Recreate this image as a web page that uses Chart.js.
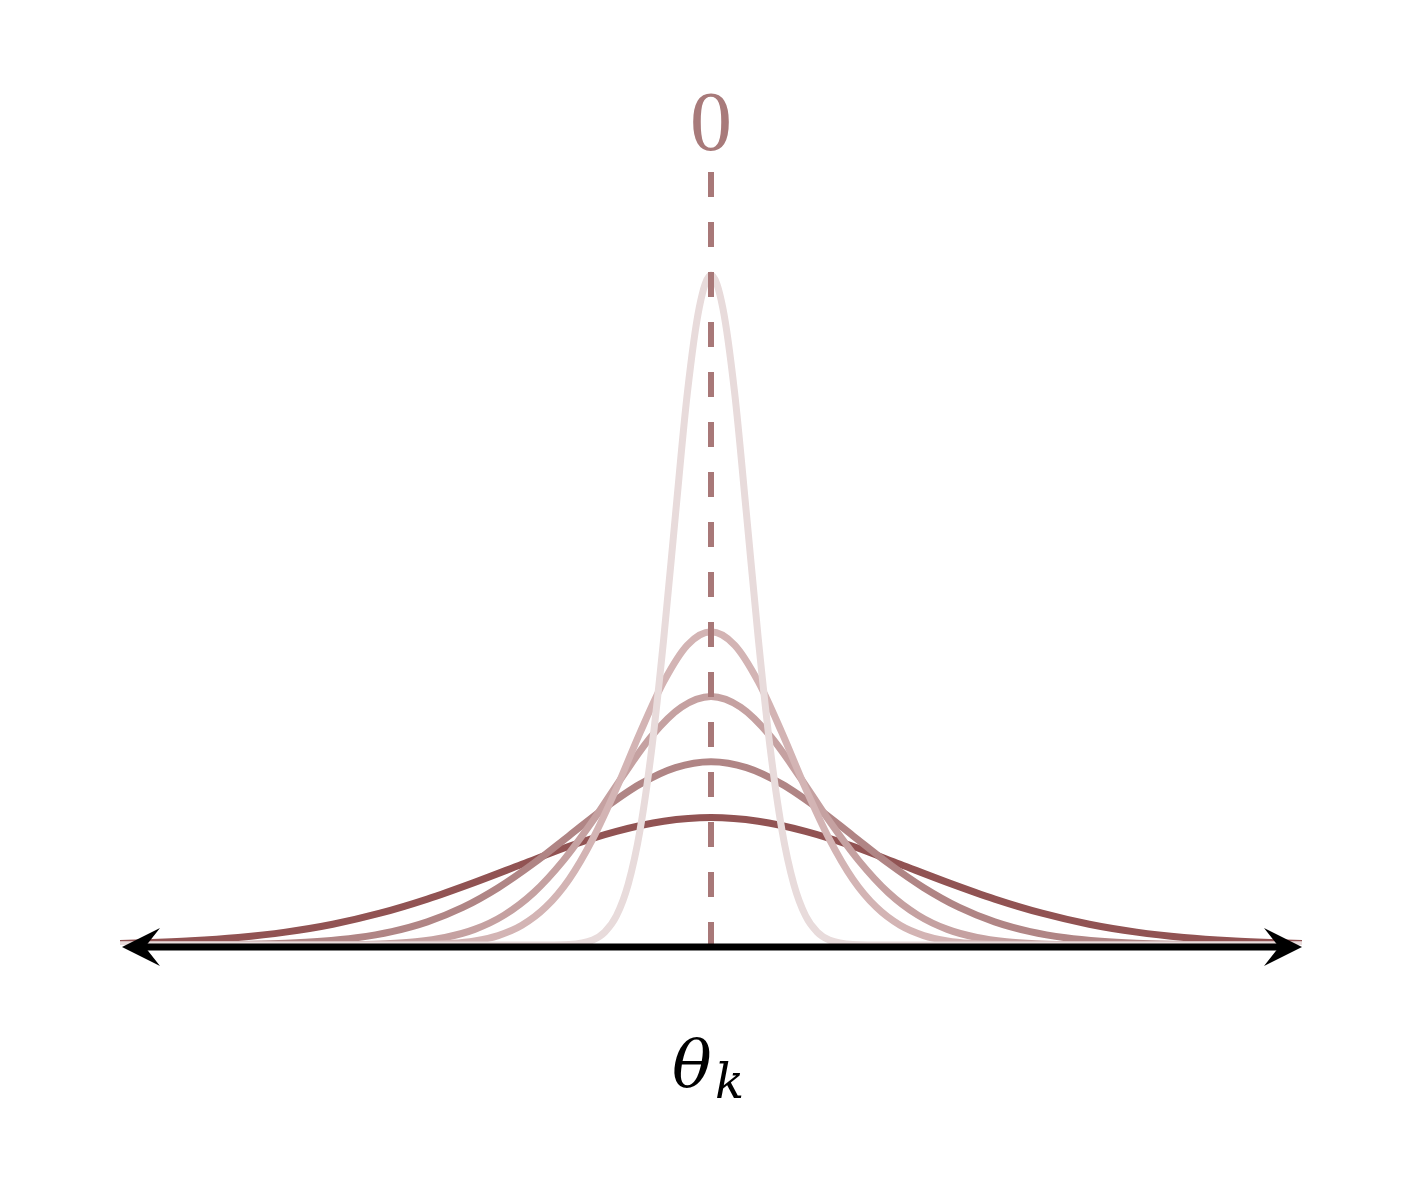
<!DOCTYPE html>
<html>
<head>
<meta charset="utf-8">
<script src="https://cdn.jsdelivr.net/npm/chart.js@4/dist/chart.umd.min.js"></script>
<style>
  body { margin: 0; background: #ffffff; }
  canvas { display: block; }
</style>
</head>
<body>
<canvas id="curves" width="1423" height="1187"></canvas>
<script>
// courbes (x en unites de l'axe, y en hauteur)

const xA = [-5, -2, -1.5, -1.2, -1.0, -0.9, -0.8, -0.7, -0.6, -0.5, -0.4, -0.3, -0.2, -0.1, 0, 0.1, 0.2, 0.3, 0.4, 0.5, 0.6, 0.7, 0.8, 0.9, 1.0, 1.2, 1.5, 2, 5];
const yA = [0, 0, 0, 0.001, 0.0095, 0.024, 0.055, 0.115, 0.217, 0.372, 0.577, 0.812, 1.04, 1.2, 1.262, 1.2, 1.04, 0.812, 0.577, 0.372, 0.217, 0.115, 0.055, 0.024, 0.0095, 0.001, 0, 0, 0];

const xB = [-5, -3, -2.6, -2.4, -2.2, -2.0, -1.8, -1.6, -1.4, -1.2, -1.0, -0.8, -0.6, -0.4, -0.2, 0, 0.2, 0.4, 0.6, 0.8, 1.0, 1.2, 1.4, 1.6, 1.8, 2.0, 2.2, 2.4, 2.6, 3, 5];
const yB = [0, 0, 0.0004, 0.0012, 0.0031, 0.0078, 0.0178, 0.0371, 0.0709, 0.124, 0.2, 0.295, 0.4, 0.496, 0.565, 0.59, 0.565, 0.496, 0.4, 0.295, 0.2, 0.124, 0.0709, 0.0371, 0.0178, 0.0078, 0.0031, 0.0012, 0.0004, 0, 0];

const xC = [-5, -3.5, -3.0, -2.75, -2.5, -2.25, -2.0, -1.75, -1.5, -1.25, -1.0, -0.75, -0.5, -0.25, 0, 0.25, 0.5, 0.75, 1.0, 1.25, 1.5, 1.75, 2.0, 2.25, 2.5, 2.75, 3.0, 3.5, 5];
const yC = [0, 0, 0.0009, 0.0025, 0.0062, 0.0141, 0.0294, 0.0563, 0.0987, 0.159, 0.234, 0.317, 0.394, 0.448, 0.468, 0.448, 0.394, 0.317, 0.234, 0.159, 0.0987, 0.0563, 0.0294, 0.0141, 0.0062, 0.0025, 0.0009, 0, 0];

const xD = [-5, -4.5, -4.2, -3.9, -3.6, -3.3, -3.0, -2.7, -2.4, -2.1, -1.8, -1.5, -1.2, -0.9, -0.6, -0.3, 0, 0.3, 0.6, 0.9, 1.2, 1.5, 1.8, 2.1, 2.4, 2.7, 3.0, 3.3, 3.6, 3.9, 4.2, 4.5, 5];
const yD = [0, 0.0002, 0.0006, 0.0015, 0.0033, 0.0069, 0.0136, 0.0252, 0.0436, 0.0708, 0.108, 0.154, 0.206, 0.258, 0.303, 0.334, 0.345, 0.334, 0.303, 0.258, 0.206, 0.154, 0.108, 0.0708, 0.0436, 0.0252, 0.0136, 0.0069, 0.0033, 0.0015, 0.0006, 0.0002, 0];

const xE = [-5, -4.8, -4.4, -4.0, -3.6, -3.2, -2.8, -2.4, -2.0, -1.6, -1.2, -0.8, -0.4, 0, 0.4, 0.8, 1.2, 1.6, 2.0, 2.4, 2.8, 3.2, 3.6, 4.0, 4.4, 4.8, 5];
const yE = [0.0029, 0.0041, 0.0078, 0.0141, 0.0242, 0.0391, 0.0599, 0.0865, 0.118, 0.152, 0.186, 0.214, 0.233, 0.24, 0.233, 0.214, 0.186, 0.152, 0.118, 0.0865, 0.0599, 0.0391, 0.0242, 0.0141, 0.0078, 0.0041, 0.0029];

const xMean = [0, 0];
const yMean = [1.456, 0];

const couleurs = ["#e8dbdb", "#d3b4b4", "#c5a1a1", "#b08585", "#915353"];

function pts(xs, ys) {
  return xs.map((x, i) => ({ x: x, y: ys[i] }));
}

function courbe(xs, ys, couleur, ordre) {
  return {
    data: pts(xs, ys),
    borderColor: couleur,
    borderWidth: 7,
    pointRadius: 0,
    cubicInterpolationMode: "monotone",
    fill: false,
    order: ordre,
  };
}

// axe avec fleches + textes
const axePlugin = {
  id: "axe",
  afterDatasetsDraw(chart) {
    const ctx = chart.ctx;
    const xs = chart.scales.x;
    const ys = chart.scales.y;
    const y0 = ys.getPixelForValue(0) + 2;
    const gauche = xs.getPixelForValue(-5);
    const droite = xs.getPixelForValue(5);
    ctx.save();
    ctx.strokeStyle = "#000000";
    ctx.fillStyle = "#000000";
    ctx.lineWidth = 7;
    ctx.beginPath();
    ctx.moveTo(gauche + 20, y0);
    ctx.lineTo(droite - 20, y0);
    ctx.stroke();
    // fleche gauche
    ctx.beginPath();
    ctx.moveTo(gauche + 2, y0);
    ctx.lineTo(gauche + 40, y0 - 19);
    ctx.lineTo(gauche + 25, y0);
    ctx.lineTo(gauche + 40, y0 + 19);
    ctx.closePath();
    ctx.fill();
    // fleche droite
    ctx.beginPath();
    ctx.moveTo(droite, y0);
    ctx.lineTo(droite - 38, y0 - 19);
    ctx.lineTo(droite - 23, y0);
    ctx.lineTo(droite - 38, y0 + 19);
    ctx.closePath();
    ctx.fill();

    const cx = xs.getPixelForValue(0);
    ctx.fillStyle = "#a87a7a";
    ctx.font = "84px 'Liberation Serif'";
    ctx.textAlign = "center";
    ctx.textBaseline = "alphabetic";
    ctx.fillText("0", cx, 150);

    ctx.fillStyle = "#000000";
    ctx.textAlign = "left";
    ctx.font = "italic 66px 'DejaVu Serif'";
    ctx.fillText("θ", 672, 1087);
    ctx.font = "italic 48px 'DejaVu Serif'";
    ctx.fillText("k", 715, 1098);
    ctx.restore();
  },
};

const canvas = document.querySelector("#curves");
const myChart = new Chart(canvas, {
  type: "line",
  data: {
    datasets: [
      {
        data: pts(xMean, yMean),
        borderColor: "#a87878",
        borderWidth: 6,
        borderDash: [25, 25],
        borderCapStyle: "butt",
        pointRadius: 0,
        fill: false,
        order: 0,
      },
      courbe(xA, yA, couleurs[0], 1),
      courbe(xB, yB, couleurs[1], 2),
      courbe(xC, yC, couleurs[2], 3),
      courbe(xD, yD, couleurs[3], 4),
      courbe(xE, yE, couleurs[4], 5),
    ],
  },
  options: {
    responsive: false,
    animation: false,
    layout: {
      padding: { left: 120, right: 121, top: 170, bottom: 242 },
    },
    scales: {
      x: { type: "linear", min: -5, max: 5, display: false },
      y: { type: "linear", min: 0, max: 1.46, display: false },
    },
    plugins: {
      legend: { display: false },
      tooltip: { enabled: false },
    },
  },
  plugins: [axePlugin],
});
</script>
</body>
</html>
